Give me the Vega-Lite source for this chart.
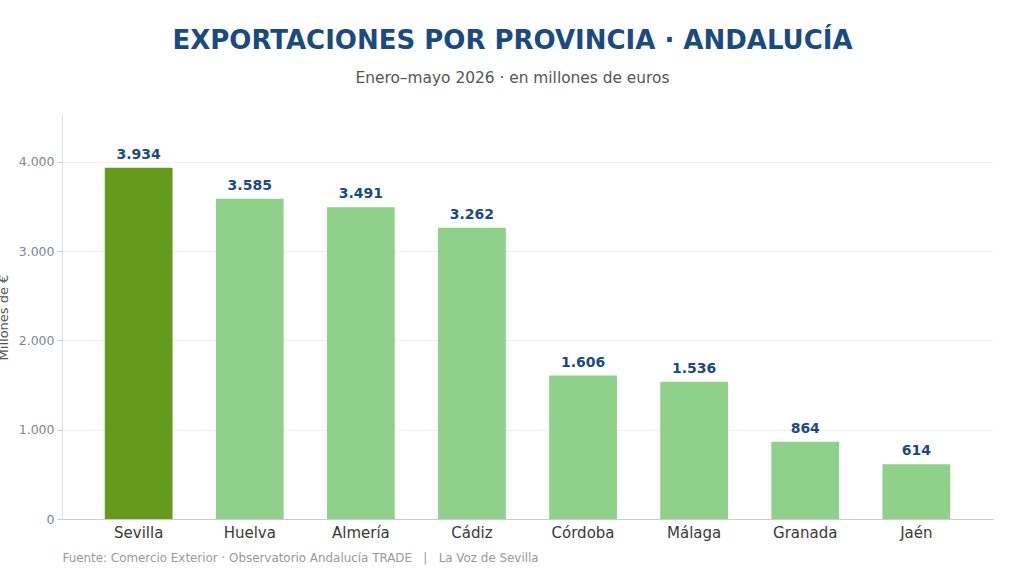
{
  "$schema": "https://vega.github.io/schema/vega-lite/v6.json",
  "width": 931,
  "height": 404,
  "autosize": {"type": "none"},
  "padding": {"left": 62, "top": 115, "right": 31, "bottom": 57},
  "background": "white",
  "config": {
    "font": "DejaVu Sans",
    "view": {"stroke": null}
  },
  "title": {
    "text": "EXPORTACIONES POR PROVINCIA · ANDALUCÍA",
    "subtitle": "Enero–mayo 2026 · en millones de euros",
    "anchor": "middle",
    "frame": "group",
    "dx": -15,
    "fontSize": 26,
    "fontWeight": "bold",
    "color": "#1a4a80",
    "subtitleFontSize": 15.4,
    "subtitleColor": "#555555",
    "subtitlePadding": 17,
    "offset": 29
  },
  "data": {
    "values": [
      {"provincia": "Sevilla", "valor": 3934, "etiqueta": "3.934", "destacado": "si"},
      {"provincia": "Huelva", "valor": 3585, "etiqueta": "3.585", "destacado": "no"},
      {"provincia": "Almería", "valor": 3491, "etiqueta": "3.491", "destacado": "no"},
      {"provincia": "Cádiz", "valor": 3262, "etiqueta": "3.262", "destacado": "no"},
      {"provincia": "Córdoba", "valor": 1606, "etiqueta": "1.606", "destacado": "no"},
      {"provincia": "Málaga", "valor": 1536, "etiqueta": "1.536", "destacado": "no"},
      {"provincia": "Granada", "valor": 864, "etiqueta": "864", "destacado": "no"},
      {"provincia": "Jaén", "valor": 614, "etiqueta": "614", "destacado": "no"}
    ]
  },
  "encoding": {
    "x": {
      "field": "provincia",
      "type": "nominal",
      "sort": null,
      "scale": {"paddingInner": 0.39, "paddingOuter": 0.385},
      "axis": {
        "title": "Fuente: Comercio Exterior · Observatorio Andalucía TRADE\u00a0\u00a0\u00a0|\u00a0\u00a0\u00a0La Voz de Sevilla",
        "titleAnchor": "start",
        "titleAlign": "left",
        "titleFontSize": 11.9,
        "titleFontWeight": "normal",
        "titleColor": "#999999",
        "titlePadding": 12,
        "labelAngle": 0,
        "labelFontSize": 15,
        "labelColor": "#3a3a3a",
        "labelPadding": 6,
        "ticks": false,
        "domainColor": "#cccccc",
        "grid": false
      }
    },
    "y": {
      "field": "valor",
      "type": "quantitative",
      "scale": {"domain": [0, 4524], "nice": false},
      "axis": {
        "title": "Millones de €",
        "titleFontSize": 13,
        "titleFontWeight": "normal",
        "titleColor": "#555555",
        "titlePadding": 8,
        "values": [0, 1000, 2000, 3000, 4000],
        "format": ",.0f",
        "labelExpr": "replace(datum.label, ',', '.')",
        "labelFontSize": 12.5,
        "labelColor": "#7a8896",
        "labelPadding": 3,
        "tickSize": 5,
        "tickColor": "#cccccc",
        "domainColor": "#dddddd",
        "gridColor": "#eeeeee",
        "gridWidth": 0.8
      }
    }
  },
  "layer": [
    {
      "mark": {"type": "bar"},
      "encoding": {
        "color": {
          "field": "destacado",
          "type": "nominal",
          "scale": {"domain": ["si", "no"], "range": ["#669a1c", "#8fd18b"]},
          "legend": null
        }
      }
    },
    {
      "mark": {"type": "text", "baseline": "bottom", "dy": -6, "fontSize": 14, "fontWeight": "bold", "color": "#1a4a80"},
      "encoding": {
        "text": {"field": "etiqueta", "type": "nominal"}
      }
    }
  ]
}
